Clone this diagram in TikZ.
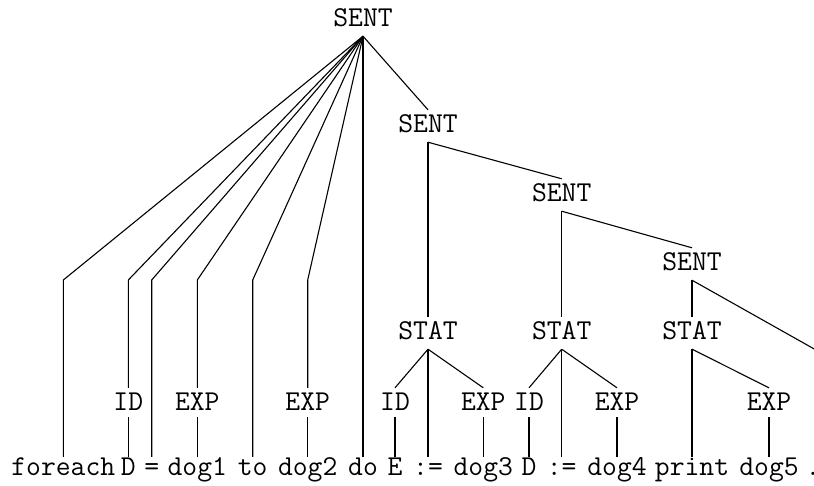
\documentclass[tikz,border=0pt]{standalone}
\usepackage{fontspec}
\begin{document}
\begin{tikzpicture}[x=1pt,y=-1pt,
  every node/.style={font=\ttfamily\fontsize{28.8}{32}\selectfont,inner sep=0pt,anchor=base},
  cat/.style={text height=22pt,text depth=10pt},
  pre/.style={text height=22pt,text depth=7pt},
  word/.style={text height=18pt,text depth=6pt},
  branch/.style={line width=1.1pt,line join=miter}]
\clip (0,0) rectangle (814,485);
\coordinate (bend) at (0,280);
\coordinate (off) at (880,386);
% inner categories
\node[cat] (s1) at (363,26) {SENT};
\node[cat] (s2) at (428,132) {SENT};
\node[cat] (s3) at (561.7,201) {SENT};
\node[cat] (s4) at (692,270) {SENT};
\node[cat] (st1) at (428,339) {STAT};
\node[cat] (st2) at (561.7,339) {STAT};
\node[cat] (st3) at (692,339) {STAT};
% preterminals
\node[pre] (id1) at (128.3,410) {ID};
\node[pre] (ex1) at (197.3,410) {EXP};
\node[pre] (ex2) at (307.7,410) {EXP};
\node[pre] (id2) at (395,410) {ID};
\node[pre] (ex3) at (483.3,410) {EXP};
\node[pre] (id3) at (529,410) {ID};
\node[pre] (ex4) at (617,410) {EXP};
\node[pre] (ex5) at (769,410) {EXP};
% words
\node[word] (w1) at (63.3,475) {foreach};
\node[word] (w2) at (128.3,475) {D};
\node[word] (w3) at (151.7,475) {=};
\node[word] (w4) at (197.3,475) {dog1};
\node[word] (w5) at (252.7,475) {to};
\node[word] (w6) at (307.7,475) {dog2};
\node[word] (w7) at (363,475) {do};
\node[word] (w8) at (395,475) {E};
\node[word] (w9) at (428,475) {:=};
\node[word] (w10) at (483.3,475) {dog3};
\node[word] (w11) at (529,475) {D};
\node[word] (w12) at (561.7,475) {:=};
\node[word] (w13) at (617,475) {dog4};
\node[word] (w14) at (692,475) {print};
\node[word] (w15) at (769,475) {dog5};
\node[word] (w16) at (813,475) {.};
% branches of the top sentence
\draw[branch] (s1.south) -- (w1.north |- bend) -- (w1.north);
\draw[branch] (s1.south) -- (id1.north |- bend) -- (id1.north);
\draw[branch] (s1.south) -- (w3.north |- bend) -- (w3.north);
\draw[branch] (s1.south) -- (ex1.north |- bend) -- (ex1.north);
\draw[branch] (s1.south) -- (w5.north |- bend) -- (w5.north);
\draw[branch] (s1.south) -- (ex2.north |- bend) -- (ex2.north);
\draw[branch] (s1.south) -- (w7.north);
\draw[branch] (s1.south) -- (s2.north);
% nested sentences
\draw[branch] (s2.south) -- (st1.north);
\draw[branch] (s2.south) -- (s3.north);
\draw[branch] (s3.south) -- (st2.north);
\draw[branch] (s3.south) -- (s4.north);
\draw[branch] (s4.south) -- (st3.north);
\draw[branch] (s4.south) -- (off);
% statements
\draw[branch] (st1.south) -- (id2.north);
\draw[branch] (st1.south) -- (w9.north);
\draw[branch] (st1.south) -- (ex3.north);
\draw[branch] (st2.south) -- (id3.north);
\draw[branch] (st2.south) -- (w12.north);
\draw[branch] (st2.south) -- (ex4.north);
\draw[branch] (st3.south) -- (w14.north);
\draw[branch] (st3.south) -- (ex5.north);
% preterminals to words
\draw[branch] (id1.south) -- (w2.north);
\draw[branch] (ex1.south) -- (w4.north);
\draw[branch] (ex2.south) -- (w6.north);
\draw[branch] (id2.south) -- (w8.north);
\draw[branch] (ex3.south) -- (w10.north);
\draw[branch] (id3.south) -- (w11.north);
\draw[branch] (ex4.south) -- (w13.north);
\draw[branch] (ex5.south) -- (w15.north);
\end{tikzpicture}
\end{document}
